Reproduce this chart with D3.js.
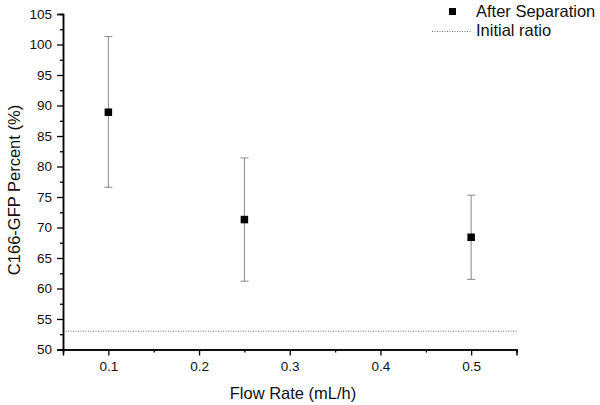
<!DOCTYPE html>
<html><head><meta charset="utf-8">
<script src="https://cdn.jsdelivr.net/npm/d3@7"></script>
<style>body{margin:0;background:#fff}svg{display:block;font-family:"Liberation Sans",Arial,sans-serif}</style>
</head><body><svg id="c" width="600" height="405"></svg>
<script>
const flowRates = [0.1, 0.25, 0.5];
const percent = [88.9, 71.3, 68.4];
const errLow = [76.6, 61.2, 61.5];
const errHigh = [101.3, 81.4, 75.3];
const initialRatio = 53;
const xTicks = [0.1, 0.2, 0.3, 0.4, 0.5];
const yTicks = [50, 55, 60, 65, 70, 75, 80, 85, 90, 95, 100, 105];

const svg = d3.select("#c");
const x = d3.scaleLinear().domain([0.05, 0.55]).range([63, 516.5]);
const y = d3.scaleLinear().domain([50, 105]).range([349.5, 14]);

// initial ratio line
svg.append("line").attr("x1", x(0.05)).attr("x2", x(0.55))
  .attr("y1", y(initialRatio)).attr("y2", y(initialRatio))
  .attr("stroke", "#777").attr("stroke-width", 1).attr("stroke-dasharray", "1,1.5");

// minor ticks
const gx = svg.append("g").attr("transform", `translate(0,${y(50)})`);
gx.call(d3.axisBottom(x).tickValues(d3.range(0.05, 0.56, 0.1).map(v => +v.toFixed(2))).tickSize(3).tickFormat(""));
const gy = svg.append("g").attr("transform", `translate(${x(0.05)},0)`);
gy.call(d3.axisLeft(y).tickValues(d3.range(52.5, 105, 5)).tickSize(3).tickFormat(""));

const gx2 = svg.append("g").attr("transform", `translate(0,${y(50)})`);
gx2.call(d3.axisBottom(x).tickValues(xTicks).tickSize(6).tickPadding(6).tickFormat(d3.format(".1f")));
const gy2 = svg.append("g").attr("transform", `translate(${x(0.05)},0)`);
gy2.call(d3.axisLeft(y).tickValues(yTicks).tickSize(6).tickPadding(5));

svg.selectAll(".domain").attr("stroke", "#000").attr("stroke-width", 1.5);
svg.selectAll(".tick line").attr("stroke", "#000").attr("stroke-width", 1.3);
svg.selectAll(".tick text").attr("font-size", 13.5).attr("fill", "#111")
  .attr("font-family", '"Liberation Sans",Arial,sans-serif');

// error bars
const pts = flowRates.map((f, i) => ({f, v: percent[i], lo: errLow[i], hi: errHigh[i]}));
const eb = svg.append("g").attr("stroke", "#888").attr("stroke-width", 1);
eb.selectAll(".v").data(pts).join("line").attr("x1", d => x(d.f)).attr("x2", d => x(d.f))
  .attr("y1", d => y(d.lo)).attr("y2", d => y(d.hi));
eb.selectAll(".t").data(pts).join("line").attr("x1", d => x(d.f) - 4).attr("x2", d => x(d.f) + 4)
  .attr("y1", d => y(d.hi)).attr("y2", d => y(d.hi));
eb.selectAll(".b").data(pts).join("line").attr("x1", d => x(d.f) - 4).attr("x2", d => x(d.f) + 4)
  .attr("y1", d => y(d.lo)).attr("y2", d => y(d.lo));

svg.append("g").selectAll("rect").data(pts).join("rect")
  .attr("x", d => x(d.f) - 3.75).attr("y", d => y(d.v) - 3.75).attr("width", 7.5).attr("height", 7.5).attr("fill", "#000");

// axis labels
svg.append("text").attr("x", 293).attr("y", 399).attr("text-anchor", "middle")
  .attr("font-size", 16.5).attr("fill", "#111").text("Flow Rate (mL/h)");
svg.append("text").attr("transform", `translate(20,190) rotate(-90)`).attr("text-anchor", "middle")
  .attr("font-size", 16.5).attr("fill", "#111").text("C166-GFP Percent (%)");

// legend
const lg = svg.append("g");
lg.append("rect").attr("x", 449).attr("y", 8).attr("width", 7).attr("height", 7).attr("fill", "#000");
lg.append("text").attr("x", 476).attr("y", 17).attr("font-size", 16.5).attr("fill", "#111").text("After Separation");
lg.append("line").attr("x1", 432).attr("x2", 472).attr("y1", 31.5).attr("y2", 31.5)
  .attr("stroke", "#777").attr("stroke-dasharray", "1,1.5");
lg.append("text").attr("x", 476).attr("y", 36).attr("font-size", 16.5).attr("fill", "#111").text("Initial ratio");
</script></body></html>
